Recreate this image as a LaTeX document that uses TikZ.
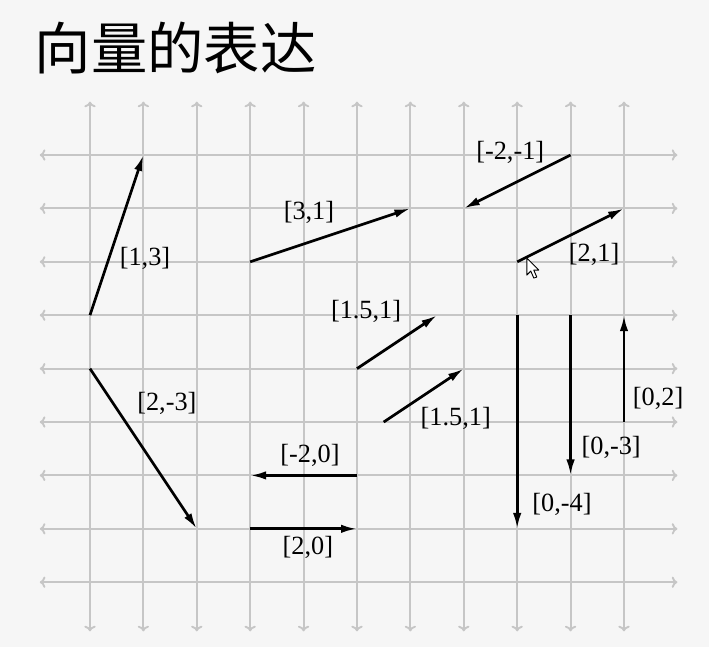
\documentclass[tikz,border=0pt]{standalone}
\usepackage{fontspec}
\setmainfont{Liberation Serif}
\newfontfamily\cjk{Noto Sans CJK SC}
\usetikzlibrary{arrows.meta}
\definecolor{nen}{RGB}{246,246,246}
\definecolor{xamluoi}{RGB}{198,198,198}
\tikzset{
  luoi/.style={xamluoi,line width=1pt,{To[length=3pt,width=6pt]}-{To[length=3pt,width=6pt]}},
  vecto/.style={line width=1.45pt,-{Latex[length=8.5pt,width=4.5pt]}},
  nhan/.style={font=\fontsize{14}{16}\selectfont,inner sep=1pt}
}
\begin{document}
\begin{tikzpicture}
\fill[nen] (-1.685,-1.213) rectangle (11.592,10.903); % nền
\useasboundingbox (-1.685,-1.213) rectangle (11.592,10.903);
\node[anchor=west,inner sep=0,font=\cjk\fontsize{30}{33}\selectfont] (tieude) at (-1.04,10.0) {向量的表达}; % tiêu đề
% lưới
\foreach \y in {0,...,8} \draw[luoi] (-0.94,\y) -- (11,\y);
\foreach \x in {0,...,10} \draw[luoi] (\x,-0.92) -- (\x,9);
% điểm đầu, điểm cuối
\coordinate (a0) at (0,5); \coordinate (a1) at (1,8);
\coordinate (b0) at (0,4); \coordinate (b1) at (2,1);
\coordinate (c0) at (3,6); \coordinate (c1) at (6,7);
\coordinate (d0) at (9,8); \coordinate (d1) at (7,7);
\coordinate (e0) at (8,6); \coordinate (e1) at (10,7);
\coordinate (f0) at (5,4); \coordinate (f1) at (6.5,5);
\coordinate (g0) at (5.5,3); \coordinate (g1) at (7,4);
\coordinate (h0) at (5,2); \coordinate (h1) at (3,2);
\coordinate (k0) at (3,1); \coordinate (k1) at (5,1);
\coordinate (m0) at (8,5); \coordinate (m1) at (8,1);
\coordinate (n0) at (9,5); \coordinate (n1) at (9,2);
\coordinate (p0) at (10,3); \coordinate (p1) at (10,5);
% vectơ
\foreach \v in {a,b,c,d,e,f,g,h,k,m,n,p} \draw[vecto] (\v0) -- (\v1);
% nhãn
\node[nhan] (na) at (1.03,6.07) {[1,3]};
\node[nhan] (nb) at (1.44,3.34) {[2,-3]};
\node[nhan] (nc) at (4.10,6.93) {[3,1]};
\node[nhan] (nd) at (7.87,8.04) {[-2,-1]};
\node[nhan] (ne) at (9.44,6.13) {[2,1]};
\node[nhan] (nf) at (5.17,5.08) {[1.5,1]};
\node[nhan] (ng) at (6.85,3.07) {[1.5,1]};
\node[nhan] (nh) at (4.12,2.38) {[-2,0]};
\node[nhan] (nk) at (4.08,0.66) {[2,0]};
\node[nhan] (nm) at (8.84,1.45) {[0,-4]};
\node[nhan] (nn) at (9.76,2.53) {[0,-3]};
\node[nhan] (np) at (10.64,3.45) {[0,2]};
% con trỏ chuột
\begin{scope}[shift={(8.18,6.07)},x=0.0187cm,y=-0.0187cm]
\draw[fill=white,line width=0.5pt,line join=round] (0,0) -- (0,17) -- (4,13) -- (7,20) -- (10,19) -- (7,12) -- (12,12) -- cycle;
\end{scope}
\end{tikzpicture}
\end{document}
